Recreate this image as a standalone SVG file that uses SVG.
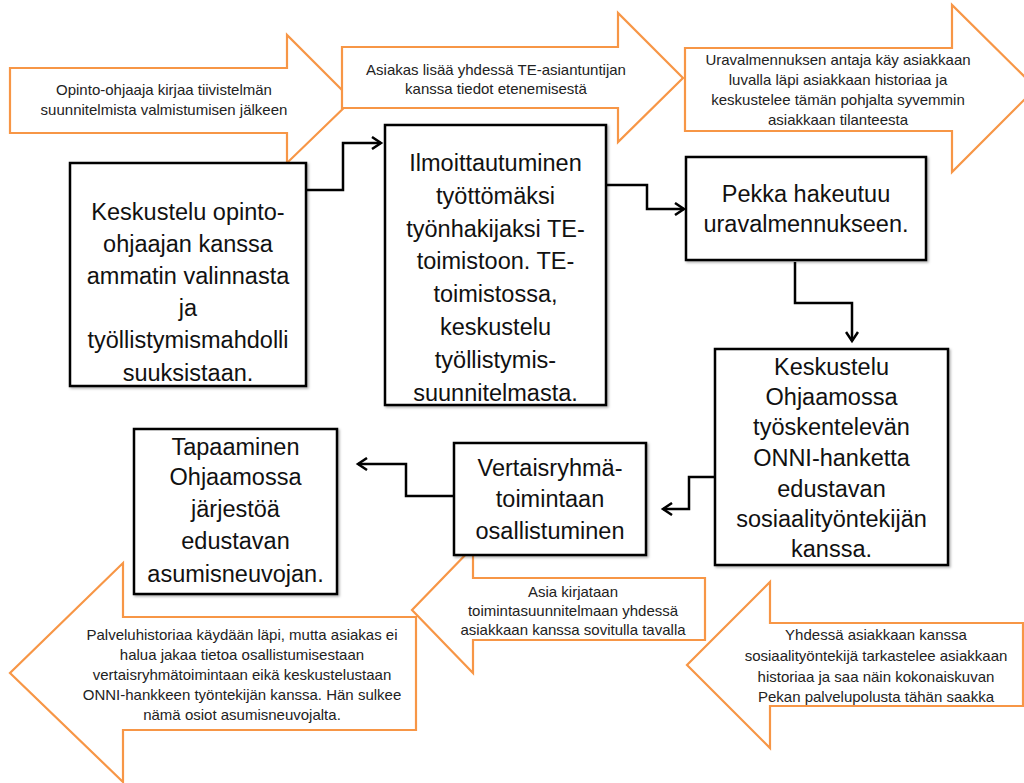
<svg xmlns="http://www.w3.org/2000/svg" width="1024" height="783" viewBox="0 0 1024 783">
<style>
.arr{fill:#fff;stroke:#F79646;stroke-width:2.2;stroke-linejoin:miter}
.box{fill:#fff;stroke:#000;stroke-width:2.5;filter:url(#sh)}
.bt{font-family:"Liberation Sans",Arial,sans-serif;font-size:23.5px;fill:#111;text-anchor:middle}
.at{font-family:"Liberation Sans",Arial,sans-serif;font-size:15px;fill:#222;text-anchor:middle}
.con{fill:none;stroke:#000;stroke-width:2.5;marker-end:url(#ah)}
</style>
<defs>
<filter id="sh" x="-5%" y="-5%" width="115%" height="115%">
<feDropShadow dx="1.5" dy="1.5" stdDeviation="1" flood-color="#000" flood-opacity="0.3"/>
</filter>
<marker id="ah" markerUnits="userSpaceOnUse" markerWidth="14" markerHeight="14" refX="9" refY="6" orient="auto" viewBox="-1 -1 12 14">
<path d="M0,0 L9,6 L0,12" fill="none" stroke="#000" stroke-width="2.5"/>
</marker>
</defs>
<rect width="1024" height="783" fill="#fff"/>

<g id="arrow1">
<polygon class="arr" points="10,68 287,68 287,35 352,100 287,163 287,133 10,133"/>
<text class="at" x="164" y="95">Opinto-ohjaaja kirjaa tiivistelmän</text>
<text class="at" x="164" y="115">suunnitelmista valmistumisen jälkeen</text>
</g>
<g id="arrow2">
<polygon class="arr" points="342,47 618,47 618,13 683,78 618,142 618,108 342,108"/>
<text class="at" x="496" y="75">Asiakas lisää yhdessä TE-asiantuntijan</text>
<text class="at" x="496" y="94">kanssa tiedot etenemisestä</text>
</g>
<g id="arrow3">
<polygon class="arr" points="685,48 952,48 952,5 1036,88 952,172 952,131 685,131"/>
<text class="at" x="838" y="65">Uravalmennuksen antaja käy asiakkaan</text>
<text class="at" x="838" y="85">luvalla läpi asiakkaan historiaa ja</text>
<text class="at" x="838" y="105">keskustelee tämän pohjalta syvemmin</text>
<text class="at" x="838" y="125">asiakkaan tilanteesta</text>
</g>
<g id="arrow5">
<polygon class="arr" points="416,617 123,617 123,563 10,673 123,782 123,730 416,730"/>
<text class="at" x="242" y="640">Palveluhistoriaa käydään läpi, mutta asiakas ei</text>
<text class="at" x="242" y="660">halua jakaa tietoa osallistumisestaan</text>
<text class="at" x="242" y="680">vertaisryhmätoimintaan eikä keskustelustaan</text>
<text class="at" x="242" y="700">ONNI-hankkeen työntekijän kanssa. Hän sulkee</text>
<text class="at" x="242" y="720">nämä osiot asumisneuvojalta.</text>
</g>
<g id="arrow4">
<polygon class="arr" points="705,578 473,578 473,547 412,610 473,673 473,640 705,640"/>
<text class="at" x="573" y="597">Asia kirjataan</text>
<text class="at" x="573" y="616">toimintasuunnitelmaan yhdessä</text>
<text class="at" x="573" y="635">asiakkaan kanssa sovitulla tavalla</text>
</g>
<g id="arrow6">
<polygon class="arr" points="1023,623 770,623 770,582 687,665 770,748 770,706 1023,706"/>
<text class="at" x="876" y="640">Yhdessä asiakkaan kanssa</text>
<text class="at" x="876" y="661">sosiaalityöntekijä tarkastelee asiakkaan</text>
<text class="at" x="876" y="682">historiaa ja saa näin kokonaiskuvan</text>
<text class="at" x="876" y="702">Pekan palvelupolusta tähän saakka</text>
</g>

<g id="connectors">
<path class="con" d="M306,190 H343 V143 H381"/>
<path class="con" d="M606,185 H647 V209 H684"/>
<path class="con" d="M795,262 V303 H852 V341"/>
<path class="con" d="M715,477 H689 V509 H663"/>
<path class="con" d="M454,496 H406 V464 H358"/>
</g>

<g id="box1">
<rect class="box" x="70" y="163" width="236" height="223"/>
<text class="bt" x="188" y="220">Keskustelu opinto-</text>
<text class="bt" x="188" y="252">ohjaajan kanssa</text>
<text class="bt" x="188" y="284">ammatin valinnasta</text>
<text class="bt" x="188" y="316">ja</text>
<text class="bt" x="188" y="348">työllistymismahdolli</text>
<text class="bt" x="188" y="381">suuksistaan.</text>
</g>
<g id="box2">
<rect class="box" x="385" y="125" width="221" height="280"/>
<text class="bt" x="495.5" y="171">Ilmoittautuminen</text>
<text class="bt" x="495.5" y="204">työttömäksi</text>
<text class="bt" x="495.5" y="237">työnhakijaksi TE-</text>
<text class="bt" x="495.5" y="269">toimistoon. TE-</text>
<text class="bt" x="495.5" y="302">toimistossa,</text>
<text class="bt" x="495.5" y="335">keskustelu</text>
<text class="bt" x="495.5" y="368">työllistymis-</text>
<text class="bt" x="495.5" y="401">suunnitelmasta.</text>
</g>
<g id="box3">
<rect class="box" x="686" y="157" width="240" height="103"/>
<text class="bt" x="806" y="202">Pekka hakeutuu</text>
<text class="bt" x="806" y="232">uravalmennukseen.</text>
</g>
<g id="box4">
<rect class="box" x="715" y="349" width="233" height="216"/>
<text class="bt" x="831.5" y="375">Keskustelu</text>
<text class="bt" x="831.5" y="405">Ohjaamossa</text>
<text class="bt" x="831.5" y="435">työskentelevän</text>
<text class="bt" x="831.5" y="466">ONNI-hanketta</text>
<text class="bt" x="831.5" y="497">edustavan</text>
<text class="bt" x="831.5" y="527">sosiaalityöntekijän</text>
<text class="bt" x="831.5" y="557">kanssa.</text>
</g>
<g id="box5">
<rect class="box" x="454" y="443" width="192" height="112"/>
<text class="bt" x="550" y="476">Vertaisryhmä-</text>
<text class="bt" x="550" y="507">toimintaan</text>
<text class="bt" x="550" y="539">osallistuminen</text>
</g>
<g id="box6">
<rect class="box" x="134" y="429" width="203" height="165"/>
<text class="bt" x="235.5" y="455">Tapaaminen</text>
<text class="bt" x="235.5" y="485">Ohjaamossa</text>
<text class="bt" x="235.5" y="517">järjestöä</text>
<text class="bt" x="235.5" y="549">edustavan</text>
<text class="bt" x="235.5" y="582">asumisneuvojan.</text>
</g>
</svg>
